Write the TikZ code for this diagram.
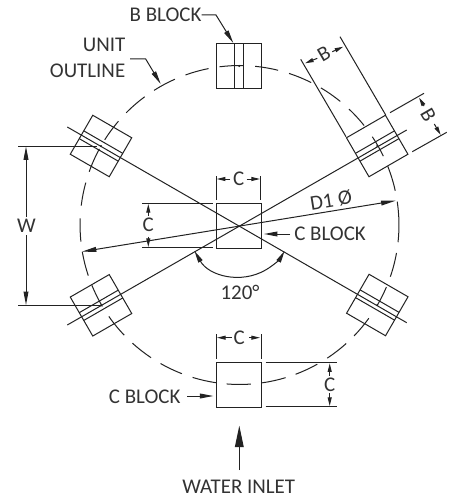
\documentclass[tikz,border=0pt]{standalone}
\usepackage{fontspec}
\setmainfont{Carlito}
\usetikzlibrary{arrows.meta}
\definecolor{ink}{HTML}{222222}
\definecolor{txt}{HTML}{333333}
\tikzset{
  line/.style={draw=ink,line width=0.75pt},
  tiny/.style={-{Triangle[length=6.5pt,width=3pt]}},
  mid/.style={-{Triangle[length=10pt,width=3.6pt]}},
  big/.style={-{Triangle[length=16pt,width=6.5pt]}},
  lbl/.style={font=\fontsize{15.7}{18}\selectfont,text=txt,inner sep=0pt},
}
\newcommand{\blockbody}{%
  \draw[line] (-22.5,-22.5) rectangle (22.5,22.5);
}
\newcommand{\finned}[3]{%
  \begin{scope}[shift={(#1,#2)},rotate=#3]
    \blockbody
    \draw[line] (-22.5,-4.5) -- (22.5,-4.5) (-22.5,4.5) -- (22.5,4.5);
    \fill[ink] (0,0) circle (1.1);
  \end{scope}}
\begin{document}
\begin{tikzpicture}[x=0.75pt,y=-0.75pt]
\useasboundingbox (0,0) rectangle (456,503);
\fill[white] (0,0) rectangle (456,503);
\coordinate (O) at (239.5,225);
% unit outline
\foreach \a/\b in {97.2/88.6,84.4/76,71.9/63.3,59.3/50.8,46.6/38.6,33.6/25.6,21.6/12.4,8.4/-6.2,-10.1/-18.9,-22.9/-30.3,-35.8/-44.1,-48/-56.6,-60.8/-69.4,-73.2/-81.8,-85.9/-94.6,-98.5/-107.1,-111.2/-119.7,-123.7/-132.2,-136.3/-145,-149.3/-157.8,-161.5/-170.3,-174/-182.4,-187/-195.4,-199.5/-208.5,-212.3/-220.6,-224.7/-233.5,-237.6/-246.1,-250.2/-258.8}
  \draw[line] (O) ++(\a:119.6pt) arc[start angle=\a,end angle=\b,radius=119.6pt];
% blocks
\begin{scope}[shift={(239.3,66)}]
  \blockbody
  \draw[line] (-4.5,-22.5) -- (-4.5,22.5) (4.5,-22.5) -- (4.5,22.5);
  \fill[ink] (0,0) circle (1.1);
\end{scope}
\begin{scope}[shift={(239.3,225.5)}]\blockbody\end{scope}
\begin{scope}[shift={(239.3,385)}]\blockbody\end{scope}
\finned{377.2}{146}{30}
\finned{101}{146}{-30}
\finned{101}{305.3}{30}
\finned{377.3}{305}{-30}
% centre lines
\coordinate (ul) at (67.3,127); \coordinate (lr) at (406.7,322.7);
\coordinate (ll) at (67.3,325); \coordinate (ur) at (406.7,130);
\draw[line] (ul) -- (lr);
\draw[line] (ll) -- (ur);
% D1
\coordinate (d1a) at (81.7,251.7); \coordinate (d1b) at (395.7,200.7);
\draw[line,{Triangle[length=11pt,width=3.6pt]}-{Triangle[length=11pt,width=3.6pt]}] (d1a) -- (d1b);
\node[lbl,rotate=9.2] (d1) at (331,200.5) {D1 Ø};
% W
\draw[line] (18,146) -- (96.7,146) (18,305.3) -- (100,305.3);
\coordinate (wt) at (26,146.5); \coordinate (wb) at (26,305);
\node[lbl] (w) at (26.5,226) {W};
\draw[line,mid] (26,217) -- (wt);
\draw[line,mid] (26,235) -- (wb);
% C top
\draw[line] (216,176) -- (216,200) (260.5,176) -- (260.5,200);
\node[lbl] (c1) at (238.7,179) {C};
\draw[line,tiny] (230,179) -- (216.7,179);
\draw[line,tiny] (246.7,179) -- (260,179);
% C left
\draw[line] (142.3,203.3) -- (212.7,203.3) (142.3,247.7) -- (212.7,247.7);
\node[lbl] (c2) at (148.3,225) {C};
\draw[line,tiny] (148.3,216) -- (148.3,204);
\draw[line,tiny] (148.3,236.7) -- (148.3,247);
% C BLOCK right
\node[lbl,anchor=west] (cb1) at (294,234) {C BLOCK};
\coordinate (cb1a) at (290,234); \coordinate (cb1t) at (264,234);
\draw[line,mid] (cb1a) -- (cb1t);
% 120
\draw[line,{Triangle[length=9pt,width=3.6pt]}-{Triangle[length=9pt,width=3.6pt]}] (194.5,251) arc[start angle=-150,end angle=-30,radius=39pt];
\node[lbl] (ang) at (240,292) {120°};
% B block
\node[lbl,anchor=east] (bb) at (201.7,15) {B BLOCK};
\coordinate (bbk) at (216,15); \coordinate (bbt) at (233.3,43);
\draw[line,mid] (bb.east) -- (bbk) -- (bbt);
% unit outline label
\node[lbl,anchor=east] (u1) at (125.5,45) {UNIT};
\node[lbl,anchor=east] (u2) at (125.5,70.7) {OUTLINE};
\coordinate (ua) at (130,59); \coordinate (ub) at (145.7,59); \coordinate (uc) at (160.7,84);
\draw[line,mid] (ua) -- (ub) -- (uc);
% B dims
\draw[line] (346,136.7) -- (300.7,59.3) (385.7,115) -- (340,36.7);
\node[lbl,rotate=30] (b1) at (324,54) {B};
\draw[line,tiny] (317.3,58.3) -- (305,63.3);
\draw[line,tiny] (332.3,51.7) -- (343.3,46.7);
\draw[line] (390,112.7) -- (424,93.3) (412.3,151.7) -- (446.7,132.3);
\node[lbl,rotate=-60] (b2) at (428.3,115) {B};
\draw[line,tiny] (424,106) -- (419,97.7);
\draw[line,tiny] (434.3,124) -- (440.7,135);
% bottom C top
\draw[line] (216,334.3) -- (216,359.3) (261,334.3) -- (261,359.3);
\node[lbl] (c3) at (239.3,337.7) {C};
\draw[line,tiny] (231.7,337.7) -- (217,337.7);
\draw[line,tiny] (249.3,337.7) -- (260,337.7);
% bottom C right
\draw[line] (265.7,362) -- (336.7,362) (265.7,406.7) -- (336.7,406.7);
\node[lbl] (c4) at (329.7,384.3) {C};
\draw[line,tiny] (329.7,375.7) -- (329.7,363.3);
\draw[line,tiny] (329.7,393.3) -- (329.7,406);
% C BLOCK lower
\node[lbl,anchor=east] (cb2) at (180.7,396.5) {C BLOCK};
\coordinate (cb2a) at (187.3,396); \coordinate (cb2t) at (213.3,396);
\draw[line,mid] (cb2a) -- (cb2t);
% water inlet
\node[lbl] (wi) at (238.8,486.7) {WATER INLET};
\coordinate (wa) at (239.3,470); \coordinate (wt2) at (239.3,425.7);
\draw[line,big] (wa) -- (wt2);
\end{tikzpicture}
\end{document}
